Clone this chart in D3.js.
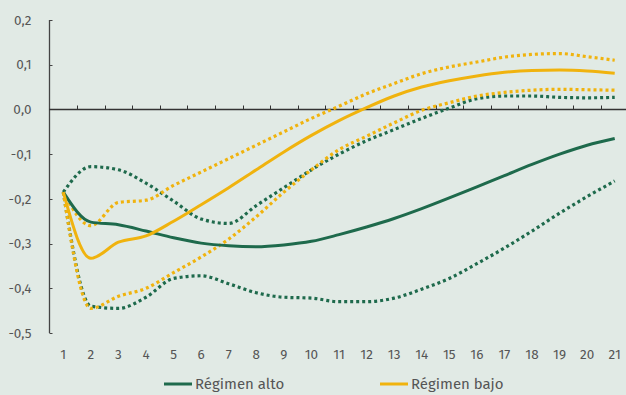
<!DOCTYPE html>
<html>
<head>
<meta charset="utf-8">
<script src="https://cdn.jsdelivr.net/npm/d3@7"></script>
<style>
  body { margin: 0; background: #e1eae5; }
  svg { display: block; }
  text { font-family: "Fira Sans", "Noto Sans", sans-serif; }
</style>
</head>
<body>
<svg width="626" height="395"></svg>
<script>
// horizons
var periods = d3.range(1, 22);
var yTicks = [0.2, 0.1, 0.0, -0.1, -0.2, -0.3, -0.4, -0.5];

// Régimen alto (green)
var altoMid = [-0.185, -0.252, -0.258, -0.272, -0.287, -0.299, -0.305, -0.307, -0.303, -0.295, -0.280, -0.263, -0.244, -0.222, -0.198, -0.173, -0.148, -0.123, -0.100, -0.080, -0.065];
var altoHigh = [-0.185, -0.128, -0.135, -0.165, -0.205, -0.245, -0.255, -0.215, -0.175, -0.135, -0.100, -0.070, -0.045, -0.020, 0.003, 0.024, 0.030, 0.030, 0.027, 0.026, 0.027];
var altoLow = [-0.185, -0.440, -0.445, -0.420, -0.378, -0.372, -0.390, -0.410, -0.420, -0.422, -0.430, -0.430, -0.422, -0.402, -0.378, -0.345, -0.310, -0.272, -0.232, -0.195, -0.160];

// Régimen bajo (yellow)
var bajoMid = [-0.185, -0.333, -0.297, -0.283, -0.250, -0.213, -0.175, -0.135, -0.095, -0.058, -0.025, 0.004, 0.030, 0.050, 0.064, 0.075, 0.083, 0.087, 0.088, 0.086, 0.081];
var bajoHigh = [-0.185, -0.260, -0.208, -0.203, -0.170, -0.140, -0.110, -0.080, -0.050, -0.020, 0.007, 0.035, 0.058, 0.080, 0.095, 0.106, 0.117, 0.123, 0.125, 0.118, 0.110];
var bajoLow = [-0.185, -0.445, -0.418, -0.400, -0.365, -0.330, -0.290, -0.240, -0.185, -0.135, -0.090, -0.060, -0.030, -0.002, 0.015, 0.030, 0.038, 0.043, 0.045, 0.044, 0.043];

var legendNames = ["Régimen alto", "Régimen bajo"];

var colorAlto = "#1e6a4c",
    colorBajo = "#f0b30e",
    colorAxis = "#444",
    colorText = "#555";

var svg = d3.select("svg");

var x = d3.scaleBand()
    .domain(periods)
    .range([49.5, 628.5]);

var y = d3.scaleLinear()
    .domain([-0.5, 0.2])
    .range([333, 20]);

var fmt = function(d) { return d3.format(".1f")(d).replace(".", ",").replace("−", "-"); };

// y axis
var yAxis = svg.append("g")
    .attr("transform", "translate(49.5,0)");
yAxis.append("line")
    .attr("y1", y(0.2)).attr("y2", y(-0.5))
    .attr("stroke", colorAxis).attr("stroke-width", 1.3);
yAxis.selectAll(".tk").data(yTicks).join("line")
    .attr("x1", 0).attr("x2", 3)
    .attr("y1", function(d) { return Math.round(y(d)) + 0.5; })
    .attr("y2", function(d) { return Math.round(y(d)) + 0.5; })
    .attr("stroke", colorAxis);
yAxis.selectAll("text").data(yTicks).join("text")
    .attr("x", -18)
    .attr("y", function(d) { return y(d); })
    .attr("dy", "0.35em")
    .attr("text-anchor", "end")
    .attr("fill", colorText)
    .attr("font-size", 13.5)
    .text(fmt);

// zero line with ticks between categories
var y0 = Math.round(y(0)) + 0.5;
svg.append("line")
    .attr("x1", 49).attr("x2", 626)
    .attr("y1", y0).attr("y2", y0)
    .attr("stroke", "#333").attr("stroke-width", 1.3);
svg.selectAll(".xt").data(periods.slice(1)).join("line")
    .attr("x1", function(d) { return Math.round(x(d)) + 0.5; })
    .attr("x2", function(d) { return Math.round(x(d)) + 0.5; })
    .attr("y1", y0).attr("y2", y0 - 4)
    .attr("stroke", "#333");

// x labels
svg.selectAll(".xl").data(periods).join("text")
    .attr("x", function(d) { return x(d) + x.bandwidth() / 2; })
    .attr("y", 359)
    .attr("text-anchor", "middle")
    .attr("fill", colorText)
    .attr("font-size", 13.5)
    .text(function(d) { return d; });

var line = d3.line()
    .x(function(d, i) { return x(periods[i]) + x.bandwidth() / 2; })
    .y(function(d) { return y(d); })
    .curve(d3.curveMonotoneX);

function draw(values, color, dotted) {
    svg.append("path")
        .datum(values)
        .attr("d", line)
        .attr("fill", "none")
        .attr("stroke", color)
        .attr("stroke-width", dotted ? 3.2 : 3)
        .attr("stroke-dasharray", dotted ? "3,3" : null);
}

draw(altoHigh, colorAlto, true);
draw(altoLow, colorAlto, true);
draw(bajoHigh, colorBajo, true);
draw(bajoLow, colorBajo, true);
draw(altoMid, colorAlto, false);
draw(bajoMid, colorBajo, false);

// legend
var legend = svg.selectAll(".lg").data([[164, colorAlto], [380, colorBajo]]).join("g")
    .attr("transform", function(d) { return "translate(" + d[0] + ",384)"; });
legend.append("line")
    .attr("x1", 0).attr("x2", 28)
    .attr("stroke", function(d) { return d[1]; })
    .attr("stroke-width", 3);
legend.append("text")
    .attr("x", 31).attr("dy", "0.35em")
    .attr("fill", colorText)
    .attr("font-size", 15)
    .text(function(d, i) { return legendNames[i]; });
</script>
</body>
</html>
